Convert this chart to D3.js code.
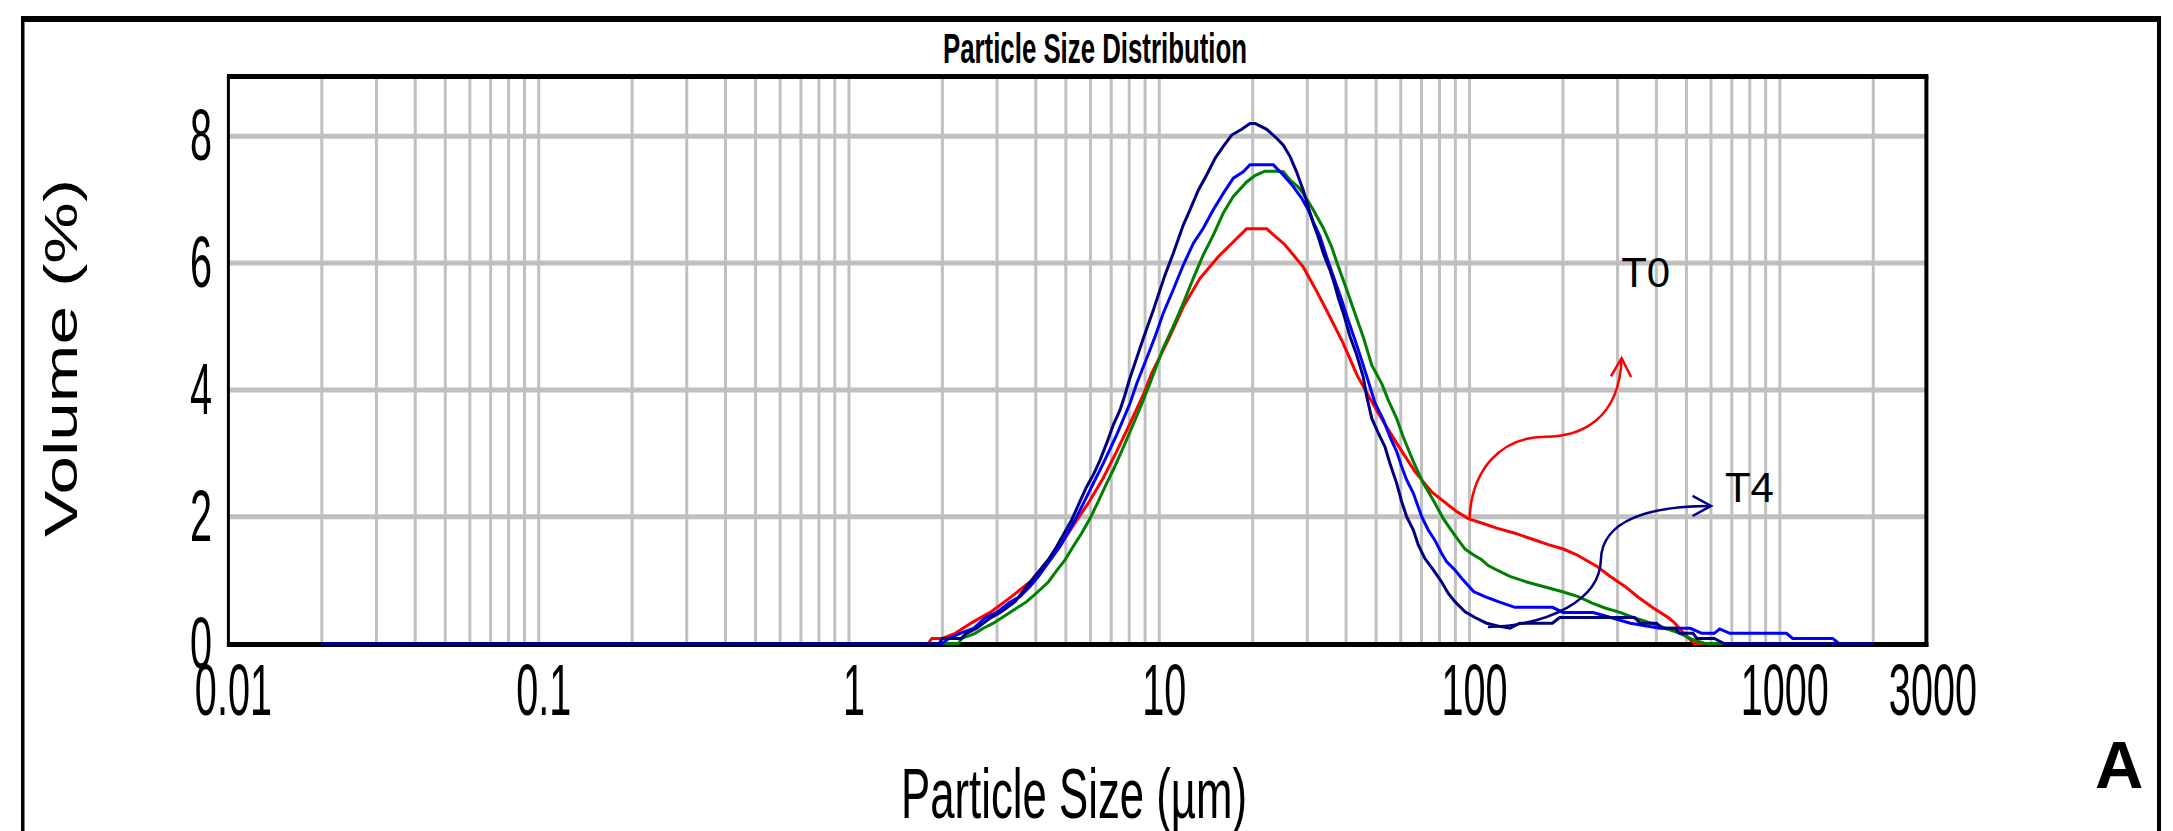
<!DOCTYPE html>
<html>
<head>
<meta charset="utf-8">
<script src="https://cdn.jsdelivr.net/npm/d3@7"></script>
<style>
  body { margin: 0; background: #fff; }
  text { font-family: 'Liberation Sans', Arial, sans-serif; fill: #000; }
</style>
</head>
<body>
<script>
// plot box, in page pixels
const SCREEN = {
    width: 2173,
    height: 831,
    left: 228.4,
    right: 1927.9,
    top: 76.5,
    bottom: 643.5,
    pxPerUnit: 63.4
};

// axis ticks
const xTickValues = [0.01, 0.1, 1, 10, 100, 1000, 3000];
const xTickLabels = ['0.01', '0.1', '1', '10', '100', '1000', '3000'];
const yTickValues = [0, 2, 4, 6, 8];
const yGridValues = [2, 4, 6, 8];

// [particle size (um), volume (%)]
const t0Red = [[0.02,0],[1.8,0],[1.85,0.08],[2.0,0.08],[2.2,0.16],[2.49,0.33],[2.85,0.49],[3.34,0.74],[3.83,0.97],[4.13,1.16],[4.85,1.58],[5.35,1.90],[5.95,2.24],[6.6,2.61],[7.29,3.03],[8.05,3.47],[8.88,3.92],[9.45,4.26],[10.69,4.79],[11.95,5.31],[13.53,5.76],[15.49,6.10],[18.2,6.44],[19.1,6.54],[22.2,6.54],[23.3,6.45],[25.4,6.29],[29.1,5.94],[32.2,5.55],[35.5,5.15],[39.2,4.73],[43.5,4.22],[50.8,3.63],[58.2,3.16],[66.7,2.71],[75.5,2.39],[90.9,2.08],[99,1.97],[109.4,1.90],[122.3,1.82],[140,1.74],[160.4,1.64],[179.4,1.56],[200.4,1.49],[221.4,1.40],[238.4,1.31],[256.8,1.22],[283.5,1.06],[316.8,0.90],[349.8,0.73],[390.9,0.56],[436.9,0.41],[459,0.32],[490,0.16],[530,0],[2000,0]];

const greenCurve = [[0.02,0],[2.25,0],[2.31,0.08],[2.55,0.16],[2.71,0.24],[2.92,0.32],[3.30,0.49],[3.74,0.66],[4.07,0.82],[4.39,0.97],[4.67,1.15],[4.97,1.32],[5.28,1.53],[5.62,1.74],[5.98,1.97],[6.36,2.24],[6.77,2.53],[7.11,2.74],[7.56,3.03],[8.05,3.34],[8.67,3.71],[9.33,4.10],[10.3,4.66],[11.09,5.00],[11.95,5.37],[12.87,5.76],[13.86,6.13],[14.93,6.44],[16.08,6.79],[17.32,7.05],[19.13,7.28],[20.34,7.38],[21.9,7.45],[23.6,7.45],[25.1,7.44],[26.4,7.31],[28.05,7.20],[29.1,7.10],[31.35,6.84],[33.8,6.55],[35.9,6.26],[37.8,5.94],[40.2,5.58],[42.7,5.21],[45.4,4.84],[48.4,4.39],[52.1,4.10],[54.7,3.84],[58.2,3.55],[61.1,3.26],[65.9,2.87],[70.9,2.53],[76.4,2.26],[82.3,1.97],[88.6,1.74],[96.7,1.49],[102.8,1.40],[109.4,1.32],[114.9,1.23],[122.3,1.16],[134.9,1.06],[152.8,0.97],[172.8,0.90],[198.1,0.82],[224,0.74],[247.4,0.64],[273.2,0.56],[305.2,0.49],[337,0.41],[396,0.30],[476,0.16],[520,0.07],[574,0],[2000,0]];

const blueCurve = [[0.02,0],[2.0,0],[2.1,0.08],[2.28,0.16],[2.52,0.24],[2.74,0.40],[2.99,0.49],[3.30,0.65],[3.56,0.74],[3.83,0.90],[4.07,1.05],[4.79,1.53],[5.42,2.00],[5.98,2.42],[6.60,2.84],[7.29,3.29],[8.05,3.79],[8.46,4.10],[9.33,4.63],[9.69,4.84],[10.3,5.21],[11.09,5.58],[11.95,5.97],[12.87,6.31],[13.86,6.55],[14.93,6.84],[16.08,7.10],[17.32,7.34],[18.65,7.44],[19.6,7.55],[23.3,7.55],[25.1,7.39],[27.0,7.21],[28.8,7.02],[30.2,6.84],[31.35,6.65],[32.96,6.42],[34.6,6.10],[36.4,5.79],[38.7,5.42],[40.5,5.12],[42.7,4.79],[44.9,4.47],[47.2,4.13],[49.6,3.79],[52.7,3.53],[55.4,3.26],[58.2,3.03],[60.4,2.79],[62.7,2.58],[65.9,2.37],[70.1,2.00],[73.6,1.79],[77.3,1.63],[81.3,1.42],[84.4,1.29],[89.7,1.16],[95.4,1.00],[103,0.82],[112.1,0.74],[123.7,0.66],[140,0.57],[185,0.57],[200,0.49],[250,0.49],[285,0.41],[330,0.32],[410,0.24],[515,0.24],[560,0.16],[615,0.16],[640,0.23],[690,0.16],[1050,0.16],[1100,0.08],[1480,0.08],[1550,0],[2000,0]];

const t4Navy = [[0.02,0],[1.95,0],[2.0,0.08],[2.3,0.08],[2.39,0.16],[2.58,0.24],[2.85,0.40],[3.10,0.50],[3.43,0.66],[3.74,0.90],[4.13,1.16],[4.39,1.32],[4.67,1.53],[4.90,1.71],[5.22,1.95],[5.55,2.24],[5.83,2.47],[6.13,2.66],[6.44,2.89],[6.77,3.16],[7.11,3.45],[7.47,3.68],[7.75,3.92],[8.01,4.16],[8.88,4.81],[9.57,5.26],[9.81,5.42],[10.43,5.81],[11.09,6.15],[11.95,6.60],[12.56,6.84],[13.36,7.15],[14.21,7.39],[15.12,7.65],[16.08,7.84],[17.12,8.02],[18.44,8.11],[19.6,8.20],[20.4,8.20],[22.2,8.11],[23.9,7.97],[25.1,7.86],[26.4,7.68],[27.7,7.44],[29.1,7.15],[30.2,6.89],[31.35,6.63],[32.5,6.42],[33.8,6.15],[35.5,5.89],[36.8,5.65],[37.8,5.44],[39.2,5.21],[41.2,4.84],[43.3,4.55],[45.4,4.21],[46.6,3.90],[48.4,3.55],[50.8,3.32],[53.4,3.10],[55.4,2.84],[58.2,2.53],[60.4,2.24],[62.7,2.00],[65.9,1.79],[68.4,1.55],[71.8,1.34],[76.4,1.16],[81.3,0.97],[85.4,0.79],[89.7,0.66],[96.7,0.50],[104.1,0.41],[113.5,0.32],[125,0.27],[135,0.24],[145,0.32],[185,0.32],[195,0.41],[340,0.41],[355,0.32],[400,0.32],[420,0.24],[460,0.24],[475,0.16],[525,0.16],[540,0.08],[615,0.08],[660,0],[2000,0]];

// draw order: navy ends on top
const seriesList = [
    { name: 'T0', color: '#ff0000', values: t0Red },
    { name: 'green', color: '#008000', values: greenCurve },
    { name: 'blue', color: '#0000ff', values: blueCurve },
    { name: 'T4', color: '#000080', values: t4Navy }
];

// annotation anchors in data units [size, volume]
const t0Arrow = { start: [100, 1.97], bend: [175, 3.26], tip: [309, 4.50] };
const t4Arrow = { start: [114.6, 0.26], bend: [265, 1.32], tip: [600, 2.17] };
const t0Label = { text: 'T0', at: [308, 5.62] };
const t4Label = { text: 'T4', at: [665, 2.23] };

const svg = d3.select('body').append('svg')
    .attr('width', SCREEN.width)
    .attr('height', SCREEN.height);

const x = d3.scaleLog()
    .domain([0.01, 3000])
    .range([SCREEN.left, SCREEN.right]);

const yMax = (SCREEN.bottom - SCREEN.top) / SCREEN.pxPerUnit;
const y = d3.scaleLinear()
    .domain([0, yMax])
    .range([SCREEN.bottom, SCREEN.top]);

// outer frame (cut off at the bottom)
svg.append('rect').attr('x', 21).attr('y', 16).attr('width', 2140).attr('height', 6).attr('fill', '#000');
svg.append('rect').attr('x', 21).attr('y', 16).attr('width', 3.5).attr('height', 830).attr('fill', '#000');
svg.append('rect').attr('x', 2157).attr('y', 16).attr('width', 4).attr('height', 830).attr('fill', '#000');

// grid
const grid = svg.append('g');
grid.selectAll('line.vgrid')
    .data(x.ticks().filter(d => d > 0.011 && d < 2999))
    .enter().append('line')
    .attr('class', 'vgrid')
    .attr('x1', d => x(d)).attr('x2', d => x(d))
    .attr('y1', SCREEN.top).attr('y2', SCREEN.bottom)
    .attr('stroke', '#c0c0c0')
    .attr('stroke-width', 3);

grid.selectAll('line.hgrid')
    .data(yGridValues)
    .enter().append('line')
    .attr('class', 'hgrid')
    .attr('x1', SCREEN.left).attr('x2', SCREEN.right)
    .attr('y1', d => y(d)).attr('y2', d => y(d))
    .attr('stroke', '#c0c0c0')
    .attr('stroke-width', 5);

// plot frame, heavier at top and bottom like the original
const frame = svg.append('g').attr('stroke', '#000');
frame.append('line').attr('x1', SCREEN.left - 1.5).attr('x2', SCREEN.right + 0.5)
    .attr('y1', SCREEN.top).attr('y2', SCREEN.top).attr('stroke-width', 5);
frame.append('line').attr('x1', SCREEN.left - 1.5).attr('x2', SCREEN.right + 0.5)
    .attr('y1', SCREEN.bottom + 1).attr('y2', SCREEN.bottom + 1).attr('stroke-width', 5);
frame.append('line').attr('x1', SCREEN.left).attr('x2', SCREEN.left)
    .attr('y1', SCREEN.top).attr('y2', SCREEN.bottom + 3).attr('stroke-width', 3);
frame.append('line').attr('x1', SCREEN.right - 1.5).attr('x2', SCREEN.right - 1.5)
    .attr('y1', SCREEN.top).attr('y2', SCREEN.bottom + 3).attr('stroke-width', 4);

// curves
const line = d3.line()
    .x(d => x(d[0]))
    .y(d => y(d[1]));

svg.append('g')
    .selectAll('path')
    .data(seriesList)
    .enter().append('path')
    .attr('d', d => line(d.values))
    .attr('fill', 'none')
    .attr('stroke', d => d.color)
    .attr('stroke-width', 3);

// squeezed text: the source picture is stretched vertically
function squeezed(parent, px, py, str, size, sx, anchor) {
    return parent.append('text')
        .attr('transform', `translate(${px},${py}) scale(${sx},1)`)
        .attr('text-anchor', anchor)
        .style('font-size', size + 'px')
        .text(str);
}

const labels = svg.append('g');
xTickValues.forEach((v, i) => {
    squeezed(labels, x(v) + 5, 715, xTickLabels[i], 72, 0.55, 'middle');
});
yTickValues.forEach(v => {
    squeezed(labels, 212, y(v) + 24, String(v), 72, 0.55, 'end');
});

svg.append('text')
    .attr('x', 943).attr('y', 63)
    .attr('textLength', 304).attr('lengthAdjust', 'spacingAndGlyphs')
    .style('font-size', '43px').style('font-weight', 'bold')
    .text('Particle Size Distribution');

svg.append('text')
    .attr('x', 901).attr('y', 818)
    .attr('textLength', 346).attr('lengthAdjust', 'spacingAndGlyphs')
    .style('font-size', '70px')
    .text('Particle Size (µm)');

svg.append('text')
    .attr('transform', 'translate(77,358) rotate(-90)')
    .attr('text-anchor', 'middle')
    .attr('textLength', 358).attr('lengthAdjust', 'spacingAndGlyphs')
    .style('font-size', '47px')
    .text('Volume (%)');

// curved arrows pointing at the T0 / T4 labels
const pt = d => [x(d[0]), y(d[1])];

function drawArrow(a, color, c1, c2, c3, c4) {
    const s = pt(a.start), b = pt(a.bend), t = pt(a.tip);
    const p = d3.path();
    p.moveTo(s[0], s[1]);
    p.bezierCurveTo(s[0] + c1[0], s[1] + c1[1], b[0] + c2[0], b[1] + c2[1], b[0], b[1]);
    p.bezierCurveTo(b[0] + c3[0], b[1] + c3[1], t[0] + c4[0], t[1] + c4[1], t[0], t[1]);
    svg.append('path').attr('d', p.toString())
        .attr('fill', 'none').attr('stroke', color).attr('stroke-width', 2.5);

    // open chevron head, aligned with the last control leg
    const ang = Math.atan2(-c4[1], -c4[0]);
    const len = 21, spread = 0.5;
    const head = d3.path();
    head.moveTo(t[0] - len * Math.cos(ang - spread), t[1] - len * Math.sin(ang - spread));
    head.lineTo(t[0], t[1]);
    head.lineTo(t[0] - len * Math.cos(ang + spread), t[1] - len * Math.sin(ang + spread));
    svg.append('path').attr('d', head.toString())
        .attr('fill', 'none').attr('stroke', color).attr('stroke-width', 2.5);
}

drawArrow(t0Arrow, '#ff0000', [2, -48], [-45, 0], [35, 0], [-2, 62]);
drawArrow(t4Arrow, '#000080', [62, -2], [-1, 40], [1, -40], [-61, 0]);

[t0Label, t4Label].forEach(l => {
    svg.append('text')
        .attr('x', x(l.at[0])).attr('y', y(l.at[1]))
        .style('font-size', '42px')
        .text(l.text);
});

svg.append('text')
    .attr('x', 2095).attr('y', 788)
    .style('font-size', '67px').style('font-weight', 'bold')
    .text('A');
</script>
</body>
</html>
